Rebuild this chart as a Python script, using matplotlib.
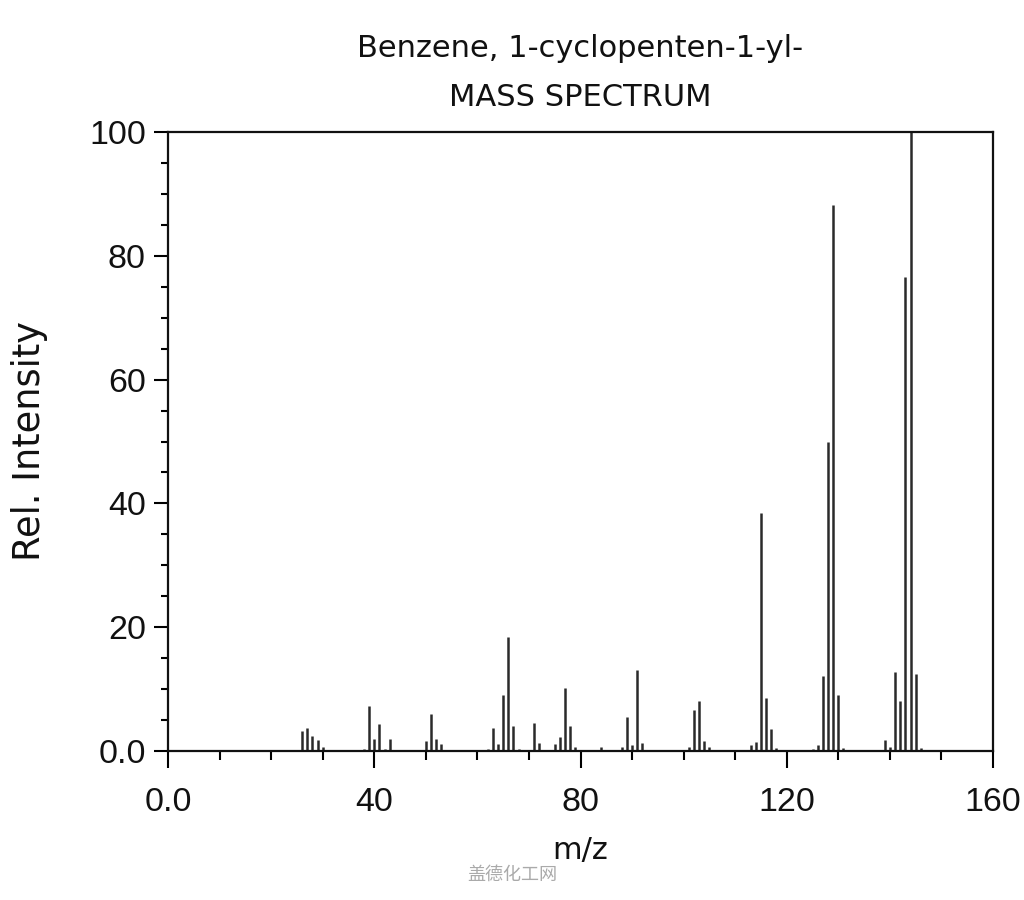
import matplotlib
matplotlib.use("Agg")
import matplotlib.pyplot as plt
from matplotlib.ticker import MultipleLocator, FixedLocator, FixedFormatter

mz = [26, 27, 28, 29, 30,
      38, 39, 40, 41, 42, 43,
      50, 51, 52, 53,
      62, 63, 64, 65, 66, 67, 68,
      71, 72, 75, 76, 77, 78, 79,
      84, 88, 89, 90, 91, 92,
      101, 102, 103, 104, 105,
      113, 114, 115, 116, 117, 118,
      125, 126, 127, 128, 129, 130, 131,
      139, 140, 141, 142, 143, 144, 145, 146]
intensity = [3.3, 3.7, 2.4, 1.8, 0.6,
             0.3, 7.3, 2.0, 4.3, 0.4, 1.9,
             1.6, 5.9, 1.9, 1.2,
             0.4, 3.7, 1.2, 9.0, 18.4, 4.0, 0.3,
             4.5, 1.3, 1.2, 2.3, 10.1, 4.0, 0.7,
             0.6, 0.6, 5.5, 1.0, 13.1, 1.3,
             0.7, 6.6, 8.1, 1.6, 0.7,
             1.0, 1.5, 38.4, 8.6, 3.5, 0.5,
             0.3, 1.0, 12.1, 50.0, 88.2, 9.1, 0.5,
             1.8, 0.7, 12.8, 8.0, 76.5, 100.0, 12.5, 0.5]

x_ticks = [0, 40, 80, 120, 160]
x_tick_labels = ["0.0", "40", "80", "120", "160"]
y_ticks = [0, 20, 40, 60, 80, 100]
y_tick_labels = ["0.0", "20", "40", "60", "80", "100"]

title_text = "Benzene, 1-cyclopenten-1-yl-\nMASS SPECTRUM"
xlabel_text = "m/z"
ylabel_text = "Rel. Intensity"
watermark = "盖德化工网"

tick_font = ["Liberation Sans", "DejaVu Sans"]

fig = plt.figure(figsize=(10.24, 9.0), dpi=100)
ax = fig.add_axes([168/1024, 1-751/900, (993-168)/1024, (751-132)/900])

ax.vlines(mz, 0, intensity, colors="#2a2a2a", linewidth=1.8)

ax.set_xlim(0, 160)
ax.set_ylim(0, 100)

ax.xaxis.set_major_locator(FixedLocator(x_ticks))
ax.xaxis.set_major_formatter(FixedFormatter(x_tick_labels))
ax.xaxis.set_minor_locator(MultipleLocator(10))
ax.yaxis.set_major_locator(FixedLocator(y_ticks))
ax.yaxis.set_major_formatter(FixedFormatter(y_tick_labels))
ax.yaxis.set_minor_locator(MultipleLocator(5))

ax.tick_params(axis="x", which="major", direction="out", length=12, width=1.5, pad=14)
ax.tick_params(axis="x", which="minor", direction="out", length=6.5, width=1.5)
ax.tick_params(axis="y", which="major", direction="out", length=10, width=1.5, pad=6)
ax.tick_params(axis="y", which="minor", direction="out", length=5, width=1.5)

for lab in ax.get_xticklabels() + ax.get_yticklabels():
    lab.set_fontfamily(tick_font)
    lab.set_fontsize(24.5)
    lab.set_color("#111111")

for sp in ax.spines.values():
    sp.set_linewidth(1.6)
    sp.set_color("#111111")

fig.text(580/1024, 1-73/900, title_text, ha="center", va="center",
         fontsize=22, family="DejaVu Sans", linespacing=1.9, color="#111111")
fig.text(580/1024, 1-850/900, xlabel_text, ha="center", va="center",
         fontsize=22, family="DejaVu Sans", color="#111111")
fig.text(30/1024, 1-441/900, ylabel_text, ha="center", va="center", rotation=90,
         fontsize=26.5, family="DejaVu Sans", color="#111111")
fig.text(512/1024, 1-875/900, watermark, ha="center", va="center",
         fontsize=13, family=["Noto Sans CJK SC", "DejaVu Sans"], color="#aaaaaa")

fig.savefig("out.png", dpi=100)
